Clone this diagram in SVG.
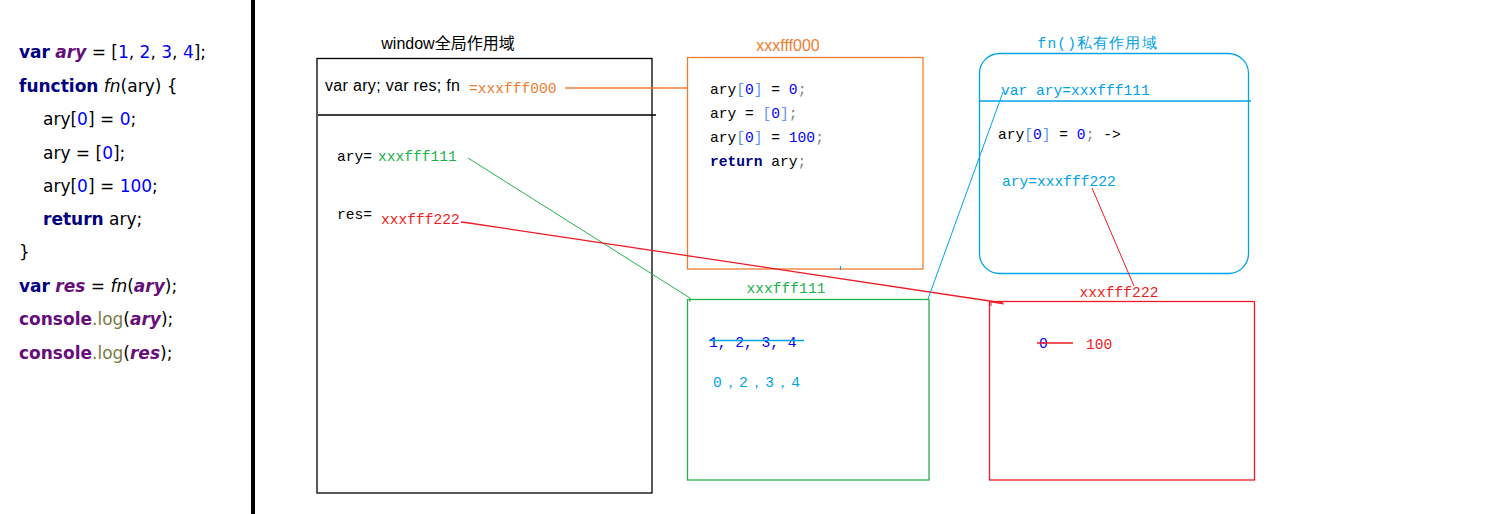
<svg xmlns="http://www.w3.org/2000/svg" width="1492" height="514" viewBox="0 0 1492 514">
<style>
.code{font-family:"DejaVu Sans",Verdana,sans-serif;font-size:17px;fill:#000}
.kw{font-weight:bold;fill:#000080}
.pv{font-weight:bold;font-style:italic;fill:#660e7a}
.num{fill:#0000ff}
.it{font-style:italic}
.con{font-weight:bold;fill:#660e7a}
.log{fill:#7a7a43}
.mono{font-family:"Liberation Mono","Courier New",monospace;font-size:14.6px}
.sans{font-family:"Liberation Sans",Arial,"Noto Sans CJK SC",sans-serif;font-size:16px}
.org{fill:#ed7d31}.grn{fill:#22b14c}.red{fill:#ed1c24}.blu{fill:#00a2e8}.blk{fill:#000}
.bl{fill:#0000ff}.br{fill:#6495ed}.gr{fill:#808080}
.box{fill:none;stroke-width:1.3}
</style>
<rect width="1492" height="514" fill="#fff"/>
<rect x="251" y="0" width="4" height="514" fill="#000"/>
<g id="code">
<text class="code" x="19" y="58"><tspan class="kw">var</tspan> <tspan class="pv">ary</tspan> = [<tspan class="num">1</tspan>, <tspan class="num">2</tspan>, <tspan class="num">3</tspan>, <tspan class="num">4</tspan>];</text>
<text class="code" x="19" y="92"><tspan class="kw">function</tspan> <tspan class="it">fn</tspan>(ary) {</text>
<text class="code" x="43" y="125">ary[<tspan class="num">0</tspan>] = <tspan class="num">0</tspan>;</text>
<text class="code" x="43" y="159">ary = [<tspan class="num">0</tspan>];</text>
<text class="code" x="43" y="192">ary[<tspan class="num">0</tspan>] = <tspan class="num">100</tspan>;</text>
<text class="code" x="43" y="225"><tspan class="kw">return</tspan> ary;</text>
<text class="code" x="19" y="258">}</text>
<text class="code" x="19" y="292"><tspan class="kw">var</tspan> <tspan class="pv">res</tspan> = <tspan class="it">fn</tspan>(<tspan class="pv">ary</tspan>);</text>
<text class="code" x="19" y="325"><tspan class="con">console</tspan><tspan class="log">.log</tspan>(<tspan class="pv">ary</tspan>);</text>
<text class="code" x="19" y="359"><tspan class="con">console</tspan><tspan class="log">.log</tspan>(<tspan class="pv">res</tspan>);</text>
</g>
<g id="window">
<text class="sans blk" x="448" y="49" text-anchor="middle">window全局作用域</text>
<rect class="box" x="317" y="58.5" width="335" height="434.5" stroke="#000" stroke-width="1.5"/>
<line x1="318" y1="115" x2="656" y2="115" stroke="#000" stroke-width="1.3"/>
<text class="sans blk" x="325" y="91" textLength="135">var ary; var res; fn</text>
<text class="mono org" x="469" y="93">=xxxfff000</text>
<text class="mono blk" x="337" y="161">ary=</text>
<text class="mono grn" x="378" y="161">xxxfff111</text>
<text class="mono blk" x="337" y="219">res=</text>
<text class="mono red" x="381" y="224">xxxfff222</text>
</g>
<g id="fnobj">
<text class="sans org" x="788" y="51" text-anchor="middle">xxxfff000</text>
<rect class="box" x="687.5" y="57.5" width="235.5" height="211.5" stroke="#ed7d31"/>
<text class="mono" x="710" y="94"><tspan class="blk">ary</tspan><tspan class="br">[</tspan><tspan class="bl">0</tspan><tspan class="br">]</tspan><tspan class="blk"> = </tspan><tspan class="bl">0</tspan><tspan class="gr">;</tspan></text>
<text class="mono" x="710" y="118"><tspan class="blk">ary = </tspan><tspan class="br">[</tspan><tspan class="bl">0</tspan><tspan class="br">]</tspan><tspan class="gr">;</tspan></text>
<text class="mono" x="710" y="142"><tspan class="blk">ary</tspan><tspan class="br">[</tspan><tspan class="bl">0</tspan><tspan class="br">]</tspan><tspan class="blk"> = </tspan><tspan class="bl">100</tspan><tspan class="gr">;</tspan></text>
<text class="mono" x="710" y="166"><tspan font-weight="bold" fill="#000080">return</tspan><tspan class="blk"> ary</tspan><tspan class="gr">;</tspan></text>
<line x1="840.5" y1="266" x2="840.5" y2="270" stroke="#00a2e8" stroke-width="1"/>
</g>
<g id="fnscope">
<text class="mono blu" x="1097" y="48" text-anchor="middle" textLength="119">fn()私有作用域</text>
<rect class="box" x="979.5" y="53.5" width="269" height="220" rx="20" stroke="#00a2e8"/>
<line x1="980" y1="101" x2="1251" y2="101" stroke="#00a2e8" stroke-width="1.3"/>
<text class="mono blu" x="1001" y="95">var ary=xxxfff111</text>
<text class="mono" x="998" y="139"><tspan class="blk">ary</tspan><tspan class="br">[</tspan><tspan class="bl">0</tspan><tspan class="br">]</tspan><tspan class="blk"> = </tspan><tspan class="bl">0</tspan><tspan class="gr">;</tspan><tspan class="blk"> -&gt;</tspan></text>
<text class="mono blu" x="1002" y="186">ary=xxxfff222</text>
</g>
<g id="arr111">
<text class="mono grn" x="786" y="293" text-anchor="middle">xxxfff111</text>
<rect class="box" x="687.5" y="299.5" width="241.5" height="180.5" stroke="#22b14c"/>
<text class="mono bl" x="709" y="347">1, 2, 3, 4</text>
<line x1="709" y1="340.5" x2="804" y2="340.5" stroke="#00a2e8" stroke-width="1.5"/>
<text class="mono blu" x="713" y="387" textLength="87">0，2，3，4</text>
</g>
<g id="arr222">
<text class="mono red" x="1119" y="297" text-anchor="middle">xxxfff222</text>
<rect class="box" x="989.5" y="301.5" width="265" height="178.5" stroke="#ed1c24"/>
<text class="mono bl" x="1039" y="348">0</text>
<line x1="1037" y1="343" x2="1073" y2="343" stroke="#ed1c24" stroke-width="1.3"/>
<text class="mono red" x="1086" y="349">100</text>
</g>
<g id="connectors" fill="none" stroke-width="1">
<line x1="565" y1="88" x2="688" y2="88" stroke="#ed7d31" stroke-width="1.5"/>
<polyline points="468,158 690,298 690,302" stroke="#22b14c"/>
<polyline points="461,222 469,223 1003,303" stroke="#ed1c24" stroke-width="1.3"/>
<polyline points="991,306 991,302 1004,304" stroke="#ed1c24"/>
<line x1="1003" y1="92" x2="928" y2="299" stroke="#00a2e8"/>
<line x1="1092" y1="188" x2="1134" y2="286" stroke="#ed1c24"/>
</g>
</svg>
